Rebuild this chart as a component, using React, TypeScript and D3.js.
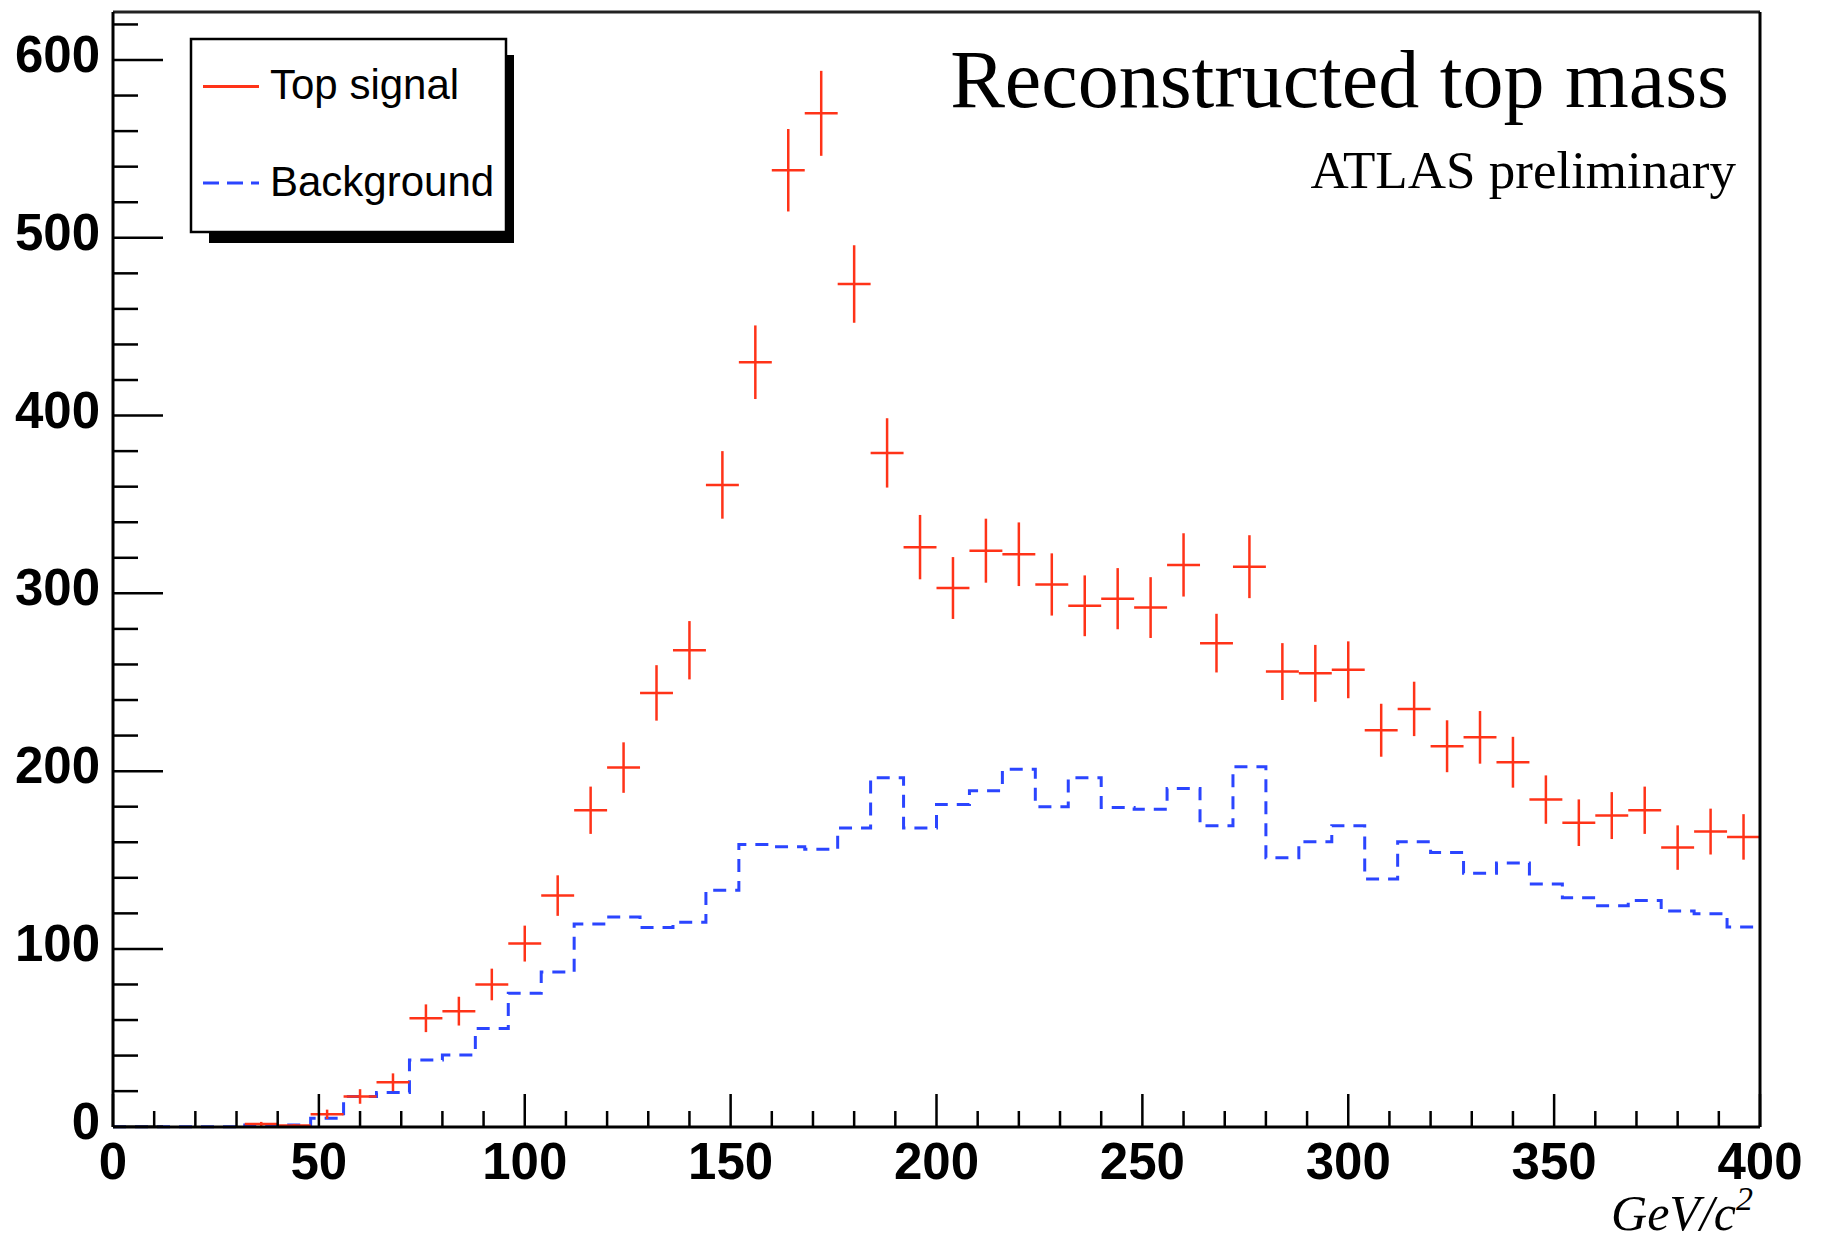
import React from "react";
import * as d3 from "d3";

// ---- data ----
const binLow: number[] = d3.range(0, 400, 8); // 50 bins, 8 GeV/c^2 wide
const binWidth = 8;

const signal: number[] = [
  0, 0, 0, 0, 1.5, 0.7, 7, 17, 25, 61,
  65, 80, 103, 130, 178, 202, 244, 268, 361, 430,
  538, 570, 474, 379, 326, 303, 324, 322, 305, 293,
  297, 292, 316, 272, 315, 256, 255, 257, 223, 235,
  214, 219, 205, 184, 171, 175, 178, 157, 166, 163,
];

const signalErr: number[] = [
  0, 0, 0, 0, 1.2, 0.8, 2.6, 4.1, 5, 7.8,
  8.1, 8.9, 10.1, 11.4, 13.3, 14.2, 15.6, 16.4, 19, 20.7,
  23.2, 23.9, 21.8, 19.5, 18.1, 17.4, 18, 17.9, 17.5, 17.1,
  17.2, 17.1, 17.8, 16.5, 17.7, 16, 16, 16, 14.9, 15.3,
  14.6, 14.8, 14.3, 13.6, 13.1, 13.2, 13.3, 12.5, 12.9, 12.8,
];

const background: number[] = [
  0, 0, 0, 0, 1, 1, 4.7, 17, 19.3, 37.5,
  40.3, 55.3, 75, 87, 114, 118, 112, 115, 133, 158.8,
  157.5, 156, 168, 196.3, 168, 181.3, 189, 201, 180, 196.3,
  179.6, 178.5, 190.3, 169.3, 202.5, 151.3, 160.3, 169.3, 139.3, 160.3,
  154.3, 142.5, 148.3, 136.5, 128.8, 124.3, 127.3, 121.3, 119.8, 112.3,
];

const xTickLabels: number[] = [0, 50, 100, 150, 200, 250, 300, 350, 400];
const yTickLabels: number[] = [0, 100, 200, 300, 400, 500, 600];
const legendLabels: string[] = ["Top signal", "Background"];
const titleText = "Reconstructed top mass";
const subtitleText = "ATLAS preliminary";

// ---- styles ----
const W = 1823;
const H = 1241;
const RED = "#ff3318";
const BLUE = "#2b45ff";
const SANS = "'Liberation Sans', Arial, Helvetica, sans-serif";
const SERIF = "'Liberation Serif', 'Times New Roman', Times, serif";

const frame = { left: 113, right: 1760, top: 12, bottom: 1127 };

export default function App() {
  const x = d3.scaleLinear().domain([0, 400]).range([frame.left, frame.right]);
  const y = d3.scaleLinear().domain([0, 600]).range([1126.7, 60]);
  const yTop = y.invert(frame.top);

  const bgPoints: [number, number][] = binLow.map((b, i) => [b, background[i]]);
  bgPoints.push([400, background[background.length - 1]]);
  const bgLine = d3
    .line<[number, number]>()
    .x((d) => x(d[0]))
    .y((d) => y(d[1]))
    .curve(d3.curveStepAfter);

  const xMinor = d3.range(0, 401, 10);
  const yMinor = d3.range(0, yTop, 20);

  // legend geometry
  const lg = { x1: 191, y1: 39, x2: 506, y2: 232 };

  return (
    <svg
      width={W}
      height={H}
      style={{ position: "absolute", left: 0, top: 0, display: "block", background: "#fff" }}
    >
      <rect x={0} y={0} width={W} height={H} fill="#fff" />

      {/* background histogram */}
      <path
        d={bgLine(bgPoints) || ""}
        fill="none"
        stroke={BLUE}
        strokeWidth={3}
        strokeDasharray="13 9"
      />

      {/* signal points with error bars */}
      <g stroke={RED} strokeWidth={2.5}>
        {signal.map((v, i) =>
          v > 0 ? (
            <g key={i}>
              <line x1={x(binLow[i])} x2={x(binLow[i] + binWidth)} y1={y(v)} y2={y(v)} />
              <line
                x1={x(binLow[i] + binWidth / 2)}
                x2={x(binLow[i] + binWidth / 2)}
                y1={y(v - signalErr[i])}
                y2={y(v + signalErr[i])}
              />
            </g>
          ) : null
        )}
      </g>

      {/* axis ticks */}
      <g stroke="#000" strokeWidth={2.5}>
        {xMinor.map((t) => (
          <line
            key={"xt" + t}
            x1={x(t)}
            x2={x(t)}
            y1={frame.bottom}
            y2={frame.bottom - (t % 50 === 0 ? 33 : 16)}
          />
        ))}
        {yMinor.map((t) => (
          <line
            key={"yt" + t}
            x1={frame.left}
            x2={frame.left + (t % 100 === 0 ? 50 : 25)}
            y1={y(t)}
            y2={y(t)}
          />
        ))}
      </g>

      {/* frame */}
      <line x1={frame.left} x2={frame.right} y1={frame.top} y2={frame.top} stroke="#222" strokeWidth={3} />
      <line x1={frame.right} x2={frame.right} y1={frame.top} y2={frame.bottom} stroke="#000" strokeWidth={3} />
      <line x1={frame.left} x2={frame.left} y1={frame.top} y2={frame.bottom} stroke="#000" strokeWidth={3} />
      <line x1={frame.left} x2={frame.right} y1={frame.bottom} y2={frame.bottom} stroke="#000" strokeWidth={3} />

      {/* tick labels */}
      <g fontFamily={SANS} fontWeight="bold" fontSize={51} fill="#000">
        {xTickLabels.map((t) => (
          <text key={"xl" + t} x={x(t)} y={1179} textAnchor="middle">
            {t}
          </text>
        ))}
        {yTickLabels.map((t) => (
          <text key={"yl" + t} x={100} y={y(t) + 12} textAnchor="end">
            {t}
          </text>
        ))}
      </g>

      {/* axis title */}
      <text
        x={1753}
        y={1230}
        textAnchor="end"
        fontFamily={SERIF}
        fontStyle="italic"
        fontSize={50}
        fill="#000"
      >
        GeV/c
        <tspan fontSize={34} dy={-20}>
          2
        </tspan>
      </text>

      {/* titles */}
      <text x={1729} y={107} textAnchor="end" fontFamily={SERIF} fontSize={82} fill="#000">
        {titleText}
      </text>
      <text x={1736} y={188} textAnchor="end" fontFamily={SERIF} fontSize={53} fill="#000">
        {subtitleText}
      </text>

      {/* legend */}
      <g>
        <rect x={lg.x2} y={lg.y1 + 16} width={8} height={lg.y2 - lg.y1 - 5} fill="#000" />
        <rect x={lg.x1 + 18} y={lg.y2} width={lg.x2 - lg.x1 - 10} height={11} fill="#000" />
        <rect
          x={lg.x1}
          y={lg.y1}
          width={lg.x2 - lg.x1}
          height={lg.y2 - lg.y1}
          fill="#fff"
          stroke="#000"
          strokeWidth={2.5}
        />
        <line x1={203} x2={259} y1={86.5} y2={86.5} stroke={RED} strokeWidth={3} />
        <line x1={203} x2={259} y1={183} y2={183} stroke={BLUE} strokeWidth={3} strokeDasharray="16 8" />
        <g fontFamily={SANS} fontSize={42} fill="#000">
          <text x={270} y={99}>
            {legendLabels[0]}
          </text>
          <text x={270} y={196}>
            {legendLabels[1]}
          </text>
        </g>
      </g>
    </svg>
  );
}
